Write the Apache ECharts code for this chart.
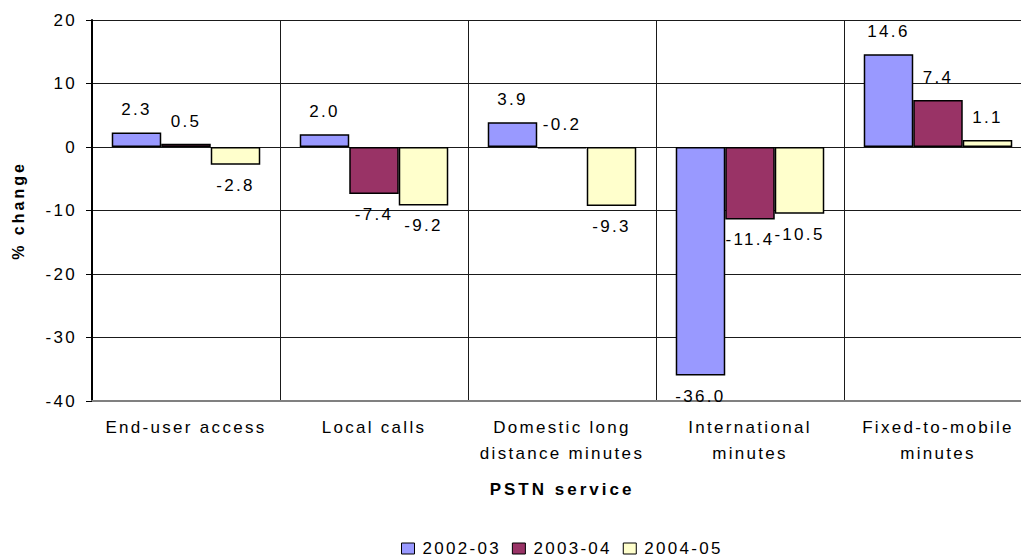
<!DOCTYPE html>
<html>
<head>
<meta charset="utf-8">
<script src="https://cdn.jsdelivr.net/npm/echarts@6/dist/echarts.min.js"></script>
<style>
  html, body { margin: 0; padding: 0; background: #fff; overflow: hidden; }
  body { width: 1021px; height: 559px; }
  #chart { width: 1040px; height: 559px; letter-spacing: 2.3px; }
  #chart text[style*="bold"] { letter-spacing: 3px; }
</style>
</head>
<body>
<div id="chart"></div>
<script>
// PSTN service categories and yearly % change
const categories = [
  'End-user access',
  'Local calls',
  'Domestic long\ndistance minutes',
  'International\nminutes',
  'Fixed-to-mobile\nminutes'
];
const seriesNames = ['2002-03', '2003-04', '2004-05'];
const values0203 = [2.3, 2.0, 3.9, -36.0, 14.6];
const values0304 = [0.5, -7.4, -0.2, -11.4, 7.4];
const values0405 = [-2.8, -9.2, -9.3, -10.5, 1.1];
const yMin = -40;
const yMax = 20;
const yStep = 10;

const FONT = "'Liberation Sans', Arial, sans-serif";
const colors = ['#9999FF', '#993366', '#FFFFCC'];

function makeSeries(name, values, color) {
  return {
    name: name,
    type: 'bar',
    barGap: '0%',
    barCategoryGap: '21%',
    data: values.map(function (v) {
      // tiny negatives keep their label above the zero line
      const above = v >= 0 || v > -1;
      return {
        value: v,
        label: { position: above ? 'top' : 'bottom', distance: above ? 14 : 12 }
      };
    }),
    itemStyle: { color: color, borderColor: '#000', borderWidth: 1.5 },
    label: {
      show: true,
      formatter: function (p) { return p.value.toFixed(1); },
      fontFamily: FONT,
      fontSize: 17,
      color: '#000'
    }
  };
}

const chart = echarts.init(document.getElementById('chart'), null, { renderer: 'svg' });

chart.setOption({
  animation: false,
  backgroundColor: '#fff',
  textStyle: { fontFamily: FONT, color: '#000' },
  grid: { left: 92, top: 20, width: 940, height: 381, containLabel: false },
  legend: {
    data: seriesNames,
    left: 401,
    top: 540,
    padding: 0,
    icon: 'rect',
    itemWidth: 13,
    itemHeight: 11,
    itemGap: 27,
    itemStyle: { borderColor: '#000', borderWidth: 1 },
    textStyle: { fontFamily: FONT, fontSize: 17, color: '#000', padding: [0, 0, 0, 3] }
  },
  xAxis: {
    type: 'category',
    data: categories,
    name: 'PSTN service',
    nameLocation: 'middle',
    nameGap: 80,
    nameTextStyle: { fontFamily: FONT, fontSize: 17, fontWeight: 'bold', color: '#000' },
    axisLine: { onZero: false, lineStyle: { color: '#808080', width: 2 } },
    axisTick: { show: false },
    axisLabel: {
      interval: 0,
      fontFamily: FONT,
      fontSize: 17,
      lineHeight: 26,
      margin: 13,
      color: '#000'
    },
    splitLine: { show: true, interval: 0, lineStyle: { color: '#1a1a1a', width: 1 } }
  },
  yAxis: {
    type: 'value',
    min: yMin,
    max: yMax,
    interval: yStep,
    name: '% change',
    nameLocation: 'middle',
    nameGap: 66,
    nameRotate: 90,
    nameTextStyle: { fontFamily: FONT, fontSize: 16, fontWeight: 'bold', color: '#000' },
    axisLine: { show: true, lineStyle: { color: '#000', width: 2 } },
    axisTick: { show: true, length: 6, lineStyle: { color: '#000', width: 1 } },
    axisLabel: { fontFamily: FONT, fontSize: 17, margin: 15, color: '#000' },
    splitLine: { show: true, lineStyle: { color: '#1a1a1a', width: 1 } }
  },
  series: [
    makeSeries(seriesNames[0], values0203, colors[0]),
    makeSeries(seriesNames[1], values0304, colors[1]),
    makeSeries(seriesNames[2], values0405, colors[2])
  ]
});
</script>
</body>
</html>
